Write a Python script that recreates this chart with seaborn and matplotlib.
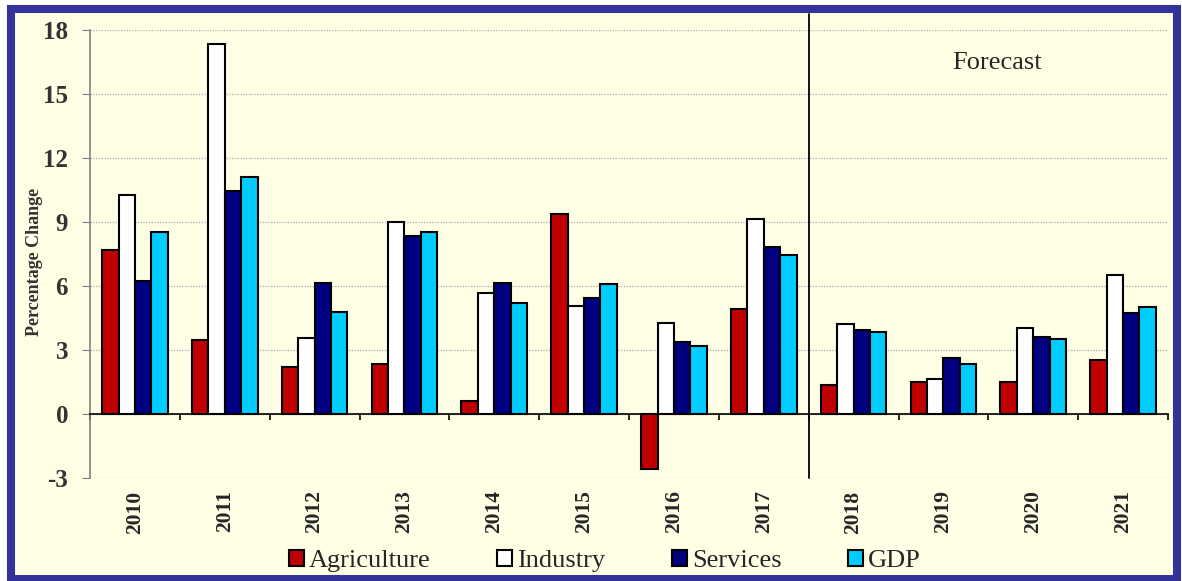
import matplotlib
matplotlib.use("Agg")
import matplotlib.pyplot as plt
import matplotlib.patches as mpatches
import seaborn as sns
import pandas as pd
import numpy as np

years = ["2010", "2011", "2012", "2013", "2014", "2015", "2016", "2017",
         "2018", "2019", "2020", "2021"]
agriculture = [7.7, 3.45, 2.2, 2.35, 0.62, 9.38, -2.6, 4.9, 1.35, 1.52, 1.52, 2.53]
industry = [10.25, 17.35, 3.57, 9.0, 5.65, 5.08, 4.27, 9.12, 4.23, 1.63, 4.02, 6.5]
services = [6.22, 10.43, 6.15, 8.35, 6.15, 5.43, 3.38, 7.82, 3.92, 2.63, 3.6, 4.73]
gdp = [8.52, 11.12, 4.8, 8.52, 5.2, 6.1, 3.2, 7.47, 3.83, 2.33, 3.53, 5.03]
sectors = ["Agriculture", "Industry", "Services", "GDP"]
colors = ["#C00000", "#FFFFFF", "#000080", "#00CCFF"]

df = pd.DataFrame({
    "Year": years * 4,
    "Sector": np.repeat(sectors, len(years)),
    "Value": agriculture + industry + services + gdp,
})

sns.set_style("white")
plt.rcParams["font.family"] = ["Liberation Serif", "DejaVu Serif"]

W, H = 1182, 581
fig = plt.figure(figsize=(W / 100, H / 100), dpi=100)
fig.patch.set_facecolor("white")

cream = "#FFFFE6"
frame = mpatches.Rectangle((11 / W, 2 / H), 1166 / W, 570 / H,
                           transform=fig.transFigure, facecolor=cream,
                           edgecolor="#333399", linewidth=5.8, zorder=-10)
fig.patches.append(frame)

ax = fig.add_axes([90 / W, (H - 478) / H, 1078 / W, 448 / H])
ax.set_facecolor("none")

sns.barplot(data=df, x="Year", y="Value", hue="Sector", hue_order=sectors,
            palette=dict(zip(sectors, colors)), saturation=1, width=0.73, gap=0,
            edgecolor="black", linewidth=1.5, ax=ax, zorder=3)
handles, labels = ax.get_legend_handles_labels()
if ax.get_legend() is not None:
    ax.get_legend().remove()

ax.set_xlim(-0.5, len(years) - 0.5)
ax.set_ylim(-3, 18)
ax.set_yticks(np.arange(-3, 19, 3))
ax.set_yticklabels([str(v) for v in range(-3, 19, 3)], fontsize=18, fontweight="bold")
ax.yaxis.grid(True, color="#b8b8b8", linestyle=(0, (1, 1)), linewidth=1)
ax.set_axisbelow(True)
ax.set_xlabel("")
ax.set_ylabel("")

for s in ["top", "right"]:
    ax.spines[s].set_visible(False)
ax.spines["left"].set_color("#808080")
ax.spines["left"].set_linewidth(1.2)
ax.spines["bottom"].set_position(("data", 0))
ax.spines["bottom"].set_color("black")
ax.spines["bottom"].set_linewidth(1.2)

ax.tick_params(axis="y", length=5.8, color="#808080", pad=10, colors="#333333",
               left=True)
ax.set_xticks(range(len(years)))
ax.set_xticklabels(years, rotation=90, fontsize=15.5, fontweight="bold")
ax.tick_params(axis="x", which="major", length=0, pad=55, bottom=True)
ax.set_xticks(np.arange(-0.5, len(years), 1), minor=True)
ax.tick_params(axis="x", which="minor", length=4, color="black", width=1.2,
               direction="out", bottom=True)

ax.axvline(7.5, ymin=0, ymax=(478 - 14) / 448, color="black", linewidth=1.3,
           clip_on=False, zorder=4)
ax.text(9.6, 16.45, "Forecast", fontsize=19, ha="center", va="center")

fig.text(35 / W, 1 - 262 / H, "Percentage Change", rotation=90, fontsize=13,
         fontweight="bold", ha="center", va="center", color="#333333")

fig.legend(handles, labels, loc="center", bbox_to_anchor=(605 / W, 1 - 561 / H),
           ncol=4, frameon=False, fontsize=19, handlelength=0.55,
           handleheight=0.6, handletextpad=0.2, columnspacing=2.53,
           borderaxespad=0, borderpad=0)

fig.savefig("out.png", dpi=100)
